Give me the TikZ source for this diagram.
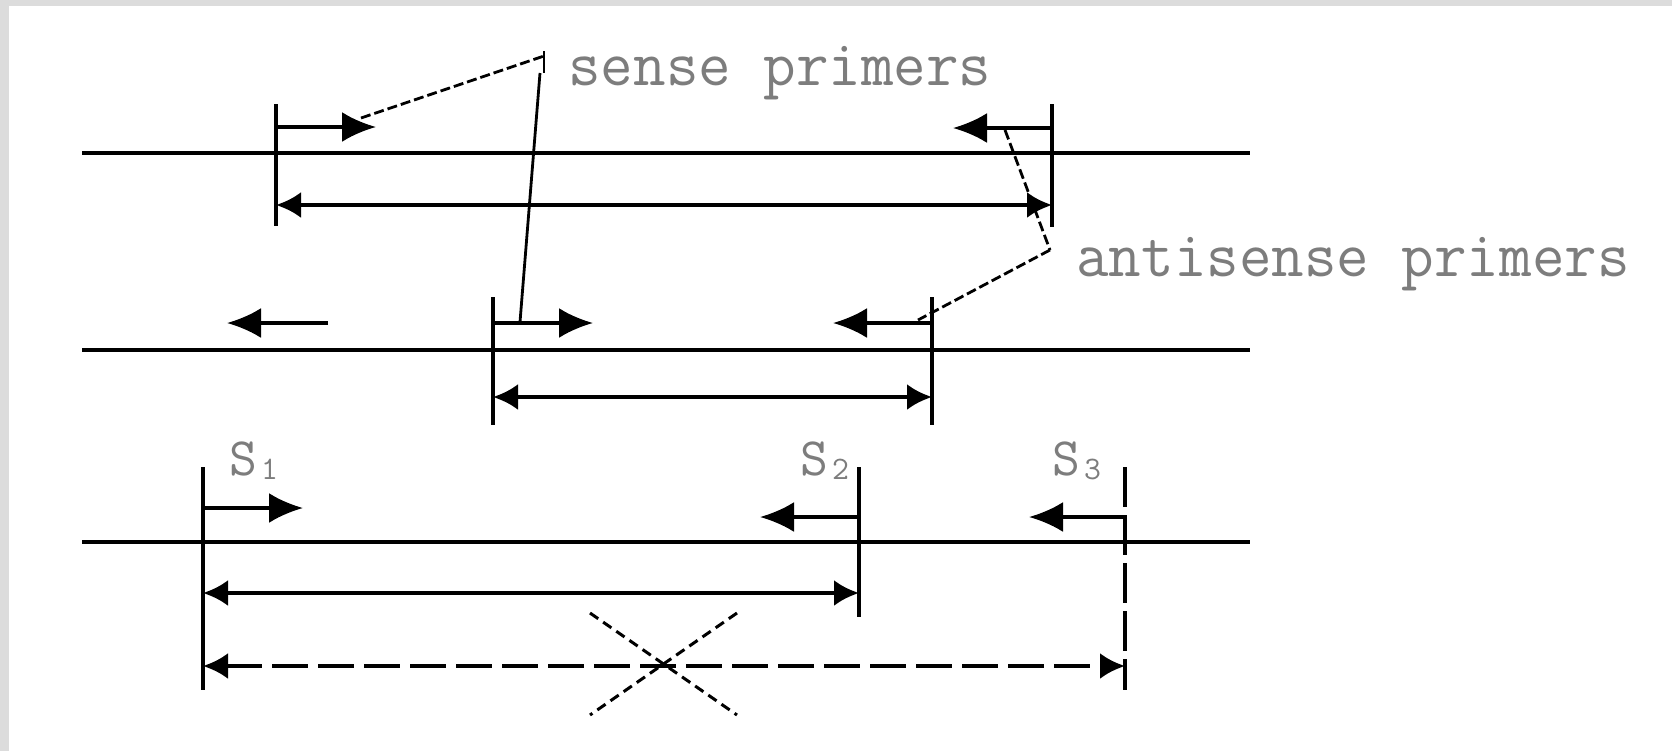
\documentclass[tikz,border=0pt]{standalone}
\usepackage{graphicx}
\usetikzlibrary{arrows.meta}
\definecolor{txtgray}{RGB}{125,125,125}
\definecolor{framegray}{RGB}{220,220,220}
\tikzset{
  dna/.style={line width=2pt},
  tickline/.style={line width=1.8pt},
  tickdash/.style={line width=1.8pt,dash pattern=on 20pt off 4pt},
  primer/.style={line width=1.8pt,-{Latex[length=17pt,width=15pt]}},
  span/.style={line width=2pt,{Latex[length=12.5pt,width=13pt]}-{Latex[length=12.5pt,width=13pt]}},
  spandash/.style={span,dash pattern=on 18pt off 5pt},
  lead/.style={line width=1.4pt},
  leaddash/.style={line width=1.4pt,dash pattern=on 5pt off 2pt},
  crossline/.style={line width=1.5pt,dash pattern=on 5pt off 3pt},
  lbl/.style={inner sep=0pt,anchor=base west,text=txtgray,font=\ttfamily\fontsize{31.6}{34}\selectfont},
  slb/.style={inner sep=0pt,anchor=base west,text=txtgray,font=\ttfamily\fontsize{27}{30}\selectfont},
}
\newcommand{\tallt}[1]{\scalebox{1}[1.03]{#1}}
\newcommand{\slbl}[1]{S\hspace{2pt}\raisebox{-2pt}{\fontsize{16.4}{17}\selectfont #1}}
\begin{document}
\begin{tikzpicture}[x=0.5pt,y=-0.5pt]
\useasboundingbox (0,0) rectangle (1672,751);
\fill[white] (0,0) rectangle (1672,751);
\fill[framegray] (0,0) rectangle (1672,6);
\fill[framegray] (0,0) rectangle (9,751);

% ---------- row 1 ----------
\coordinate (d1a) at (82,153);
\coordinate (d1b) at (1250,153);
\coordinate (v1lt) at (276,104);
\coordinate (v1lb) at (276,226);
\coordinate (v1rt) at (1052,104);
\coordinate (v1rb) at (1052,227);
\coordinate (p1s) at (276,127);
\coordinate (p1st) at (376,127);
\coordinate (p1a) at (1052,128);
\coordinate (p1at) at (953,128);
\coordinate (s1l) at (276,205);
\coordinate (s1r) at (1052,205);
\draw[dna] (d1a) -- (d1b);
\draw[tickline] (v1lt) -- (v1lb);
\draw[tickline] (v1rt) -- (v1rb);
\draw[primer] (p1s) -- (p1st);
\draw[primer] (p1a) -- (p1at);
\draw[span] (s1l) -- (s1r);

% ---------- row 2 ----------
\coordinate (d2a) at (82,350);
\coordinate (d2b) at (1250,350);
\coordinate (v2lt) at (493,297);
\coordinate (v2lb) at (493,425);
\coordinate (v2rt) at (932,297);
\coordinate (v2rb) at (932,425);
\coordinate (p2s) at (493,323);
\coordinate (p2st) at (593,323);
\coordinate (p2a) at (932,323);
\coordinate (p2at) at (833,323);
\coordinate (p2x) at (328,323);
\coordinate (p2xt) at (227,323);
\coordinate (s2l) at (493,397);
\coordinate (s2r) at (932,397);
\draw[dna] (d2a) -- (d2b);
\draw[tickline] (v2lt) -- (v2lb);
\draw[tickline] (v2rt) -- (v2rb);
\draw[primer] (p2s) -- (p2st);
\draw[primer] (p2a) -- (p2at);
\draw[primer] (p2x) -- (p2xt);
\draw[span] (s2l) -- (s2r);

% ---------- leaders ----------
\coordinate (ls0) at (361,118);
\coordinate (ls1) at (544,56);
\coordinate (ls1t) at (544,51);
\coordinate (ls1b) at (544,73);
\coordinate (ls2) at (540,73);
\coordinate (ls3) at (520,322);
\draw[leaddash] (ls0) -- (ls1);
\draw[lead] (ls1t) -- (ls1b);
\draw[lead] (ls2) -- (ls3);
\coordinate (la0) at (1005,130);
\coordinate (la1) at (1050,250);
\coordinate (la2) at (918,320);
\draw[leaddash] (la0) -- (la1);
\draw[leaddash] (la1) -- (la2);

\node[lbl] (sense) at (568,85) {\tallt{sense primers}};
\node[lbl] (anti) at (1076,276) {\tallt{antisense primers}};

% ---------- row 3 ----------
\coordinate (d3a) at (82,542);
\coordinate (d3b) at (1250,542);
\coordinate (v31t) at (203,467);
\coordinate (v31b) at (203,690);
\coordinate (v32t) at (859,467);
\coordinate (v32b) at (859,617);
\coordinate (v33t) at (1125,467);
\coordinate (v33b) at (1125,690);
\coordinate (p31) at (203,508);
\coordinate (p31t) at (303,508);
\coordinate (p32) at (859,517);
\coordinate (p32t) at (760,517);
\coordinate (p33) at (1125,517);
\coordinate (p33t) at (1029,517);
\coordinate (s3l) at (203,593);
\coordinate (s3r) at (859,593);
\coordinate (s4l) at (203,666);
\coordinate (s4r) at (1125,666);
\draw[dna] (d3a) -- (d3b);
\draw[tickline] (v31t) -- (v31b);
\draw[tickline] (v32t) -- (v32b);
\draw[tickdash] (v33t) -- (v33b);
\draw[primer] (p31) -- (p31t);
\draw[primer] (p32) -- (p32t);
\draw[primer] (p33) -- (p33t);
\draw[span] (s3l) -- (s3r);
\draw[spandash] (s4l) -- (s4r);

\coordinate (xa) at (590,613);
\coordinate (xb) at (737,715);
\coordinate (xc) at (737,613);
\coordinate (xd) at (590,715);
\draw[crossline] (xa) -- (xb);
\draw[crossline] (xc) -- (xd);

\node[slb] (S1) at (229,475) {\slbl{1}};
\node[slb] (S2) at (800,475) {\slbl{2}};
\node[slb] (S3) at (1052,475) {\slbl{3}};
\end{tikzpicture}
\end{document}
